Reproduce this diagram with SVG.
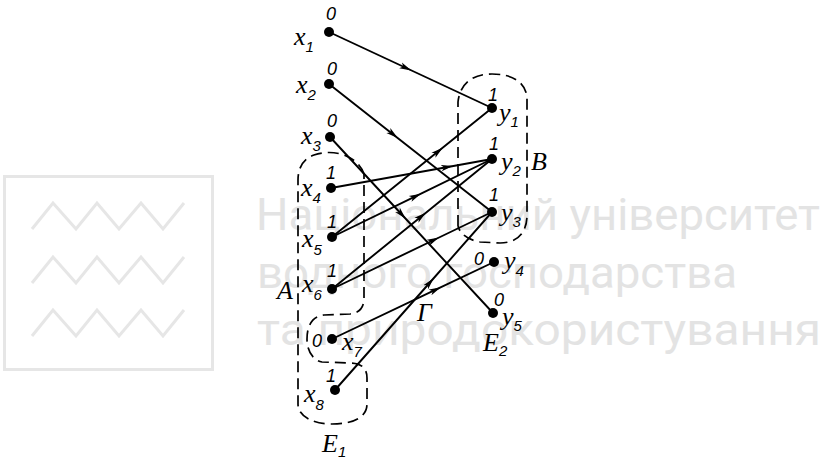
<svg xmlns="http://www.w3.org/2000/svg" width="832" height="460" viewBox="0 0 832 460">
<style>
.wm{fill:#e3e3e3;font-family:Roboto,"Open Sans","Liberation Sans",sans-serif;font-size:44px}
.wml{fill:none;stroke:#e6e6e6;stroke-width:3}
.e{fill:none;stroke:#000;stroke-width:1.9;marker-mid:url(#ah)}
.d{fill:none;stroke:#000;stroke-width:1.7;stroke-dasharray:11 6}
.n{fill:#000}
.v{font-family:"Liberation Serif",serif;font-style:italic;font-size:26px;fill:#000}
.v tspan{font-family:"Liberation Sans",sans-serif;font-size:15px}
.g{font-family:"Liberation Sans",sans-serif;font-style:italic;font-size:18px;fill:#000}
</style>
<defs>
<marker id="ah" viewBox="0 0 12 8" markerWidth="12" markerHeight="8" refX="11" refY="4" orient="auto" markerUnits="userSpaceOnUse">
<path d="M0,0.8 L12,4 L0,7.2 L3,4 z" fill="#000"/>
</marker>
</defs>
<g id="watermark">
<rect class="wml" x="4.5" y="176.5" width="208" height="193"/>
<polyline class="wml" points="32,229 53,203 76,229 97,203 119,229 141,203 163,229 184,203"/>
<polyline class="wml" points="32,283 53,257 76,283 97,257 119,283 141,257 163,283 184,257"/>
<polyline class="wml" points="32,336 53,310 76,336 97,310 119,336 141,310 163,336 184,310"/>
<text class="wm" x="256" y="230" textLength="564" lengthAdjust="spacingAndGlyphs">Національний університет</text>
<text class="wm" x="257" y="288" textLength="480" lengthAdjust="spacingAndGlyphs">водного господарства</text>
<text class="wm" x="257" y="345" textLength="564" lengthAdjust="spacingAndGlyphs">та природокористування</text>
</g>
<g id="regions">
<path id="E1-outline" class="d" d="M364,174 C358,156 334,148 314,155 C303,159 298,168 298,180 L298,404 C298,417 314,424 332,424 C352,424 367,418 367,404 L367,378 C367,368 361,363 350,363 L322,362 C312,360 307,350 307,339 C307,326 312,316 324,315 L350,314 C359,313 364,308 364,298 Z"/>
<path id="B-outline" class="d" d="M458,226 L458,102 C460,84 472,74 492,74 C512,74 526,82 527,98 L527,215 C527,232 518,243 500,243 L480,242 C468,240 460,234 458,226"/>
</g>
<g id="connectors">
<path class="e" d="M329,32 L410.5,70 L492,108"/>
<path class="e" d="M329,84 L397,137.4 L492,212"/>
<path class="e" d="M330,137 L405,218 L493,313"/>
<path class="e" d="M331,188 L452,166.2 L492,159"/>
<path class="e" d="M332,237 L442,148.3 L492,108"/>
<path class="e" d="M332,237 L420,194.1 L492,159"/>
<path class="e" d="M332,289 L425,213.4 L492,159"/>
<path class="e" d="M332,289 L438,238 L492,212"/>
<path class="e" d="M332,339 L440,287.7 L494,262"/>
<path class="e" d="M335,390 L433,279 L492,212"/>
</g>
<g id="x1"><circle class="n" cx="329" cy="32" r="5"/><text class="g" x="326" y="20">0</text><text class="v" x="294" y="45">x<tspan dy="7">1</tspan></text></g>
<g id="x2"><circle class="n" cx="329" cy="84" r="5"/><text class="g" x="327" y="75">0</text><text class="v" x="296" y="93">x<tspan dy="7">2</tspan></text></g>
<g id="x3"><circle class="n" cx="330" cy="137" r="5"/><text class="g" x="327" y="127">0</text><text class="v" x="301" y="144">x<tspan dy="7">3</tspan></text></g>
<g id="x4"><circle class="n" cx="331" cy="188" r="5"/><text class="g" x="326" y="179">1</text><text class="v" x="301" y="196">x<tspan dy="7">4</tspan></text></g>
<g id="x5"><circle class="n" cx="332" cy="237" r="5"/><text class="g" x="327" y="228">1</text><text class="v" x="302" y="247">x<tspan dy="8">5</tspan></text></g>
<g id="x6"><circle class="n" cx="332" cy="289" r="5"/><text class="g" x="327" y="277">1</text><text class="v" x="302" y="292">x<tspan dy="8">6</tspan></text></g>
<g id="x7"><circle class="n" cx="332" cy="339" r="5"/><text class="g" x="312" y="347">0</text><text class="v" x="342" y="350">x<tspan dy="7">7</tspan></text></g>
<g id="x8"><circle class="n" cx="335" cy="390" r="5"/><text class="g" x="326" y="382">1</text><text class="v" x="304" y="402">x<tspan dy="8">8</tspan></text></g>
<g id="y1"><circle class="n" cx="492" cy="108" r="5"/><text class="g" x="488" y="101">1</text><text class="v" x="499" y="121">y<tspan dy="6">1</tspan></text></g>
<g id="y2"><circle class="n" cx="492" cy="159" r="5"/><text class="g" x="489" y="150">1</text><text class="v" x="501" y="170">y<tspan dy="6">2</tspan></text></g>
<g id="y3"><circle class="n" cx="492" cy="212" r="5"/><text class="g" x="489" y="201">1</text><text class="v" x="501" y="221">y<tspan dy="6">3</tspan></text></g>
<g id="y4"><circle class="n" cx="494" cy="262" r="5"/><text class="g" x="474" y="265">0</text><text class="v" x="504" y="269">y<tspan dy="7">4</tspan></text></g>
<g id="y5"><circle class="n" cx="493" cy="313" r="5"/><text class="g" x="494" y="306">0</text><text class="v" x="502" y="325">y<tspan dy="6">5</tspan></text></g>
<g id="labels">
<text class="v" x="277" y="299" font-size="19">A</text>
<text class="v" x="531" y="170" font-size="19">B</text>
<text class="v" x="417" y="321" font-size="19">Γ</text>
<text class="v" x="322" y="452" font-size="20">E<tspan dy="5">1</tspan></text>
<text class="v" x="483" y="351" font-size="20">E<tspan dy="5">2</tspan></text>
</g>
</svg>
